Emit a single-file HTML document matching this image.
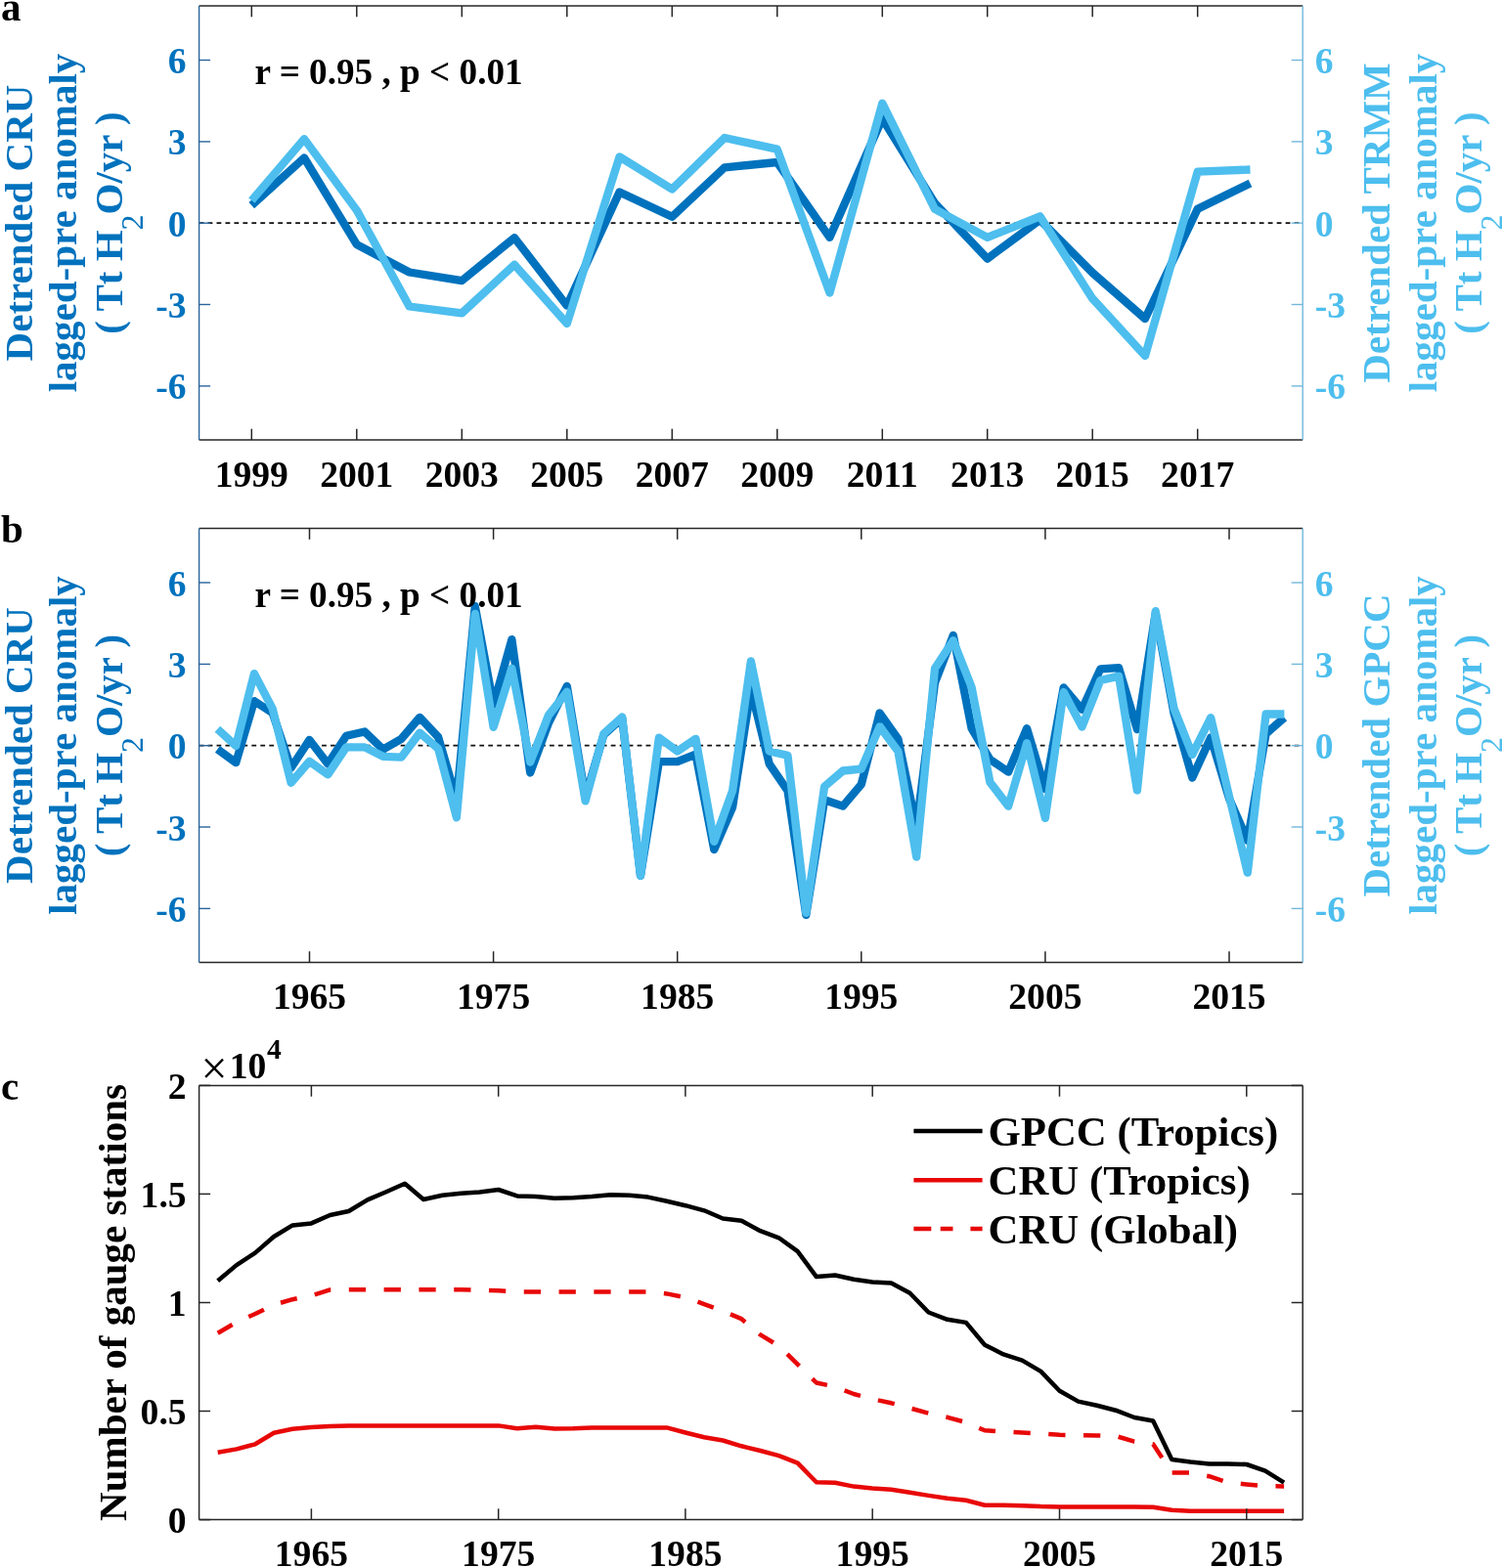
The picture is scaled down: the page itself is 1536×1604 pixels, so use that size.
<!DOCTYPE html><html><head><meta charset="utf-8"><style>html,body{margin:0;padding:0;background:#fff;}svg{display:block;}</style></head><body><svg width="1536" height="1604" viewBox="0 0 1536 1604" font-family="'Liberation Serif', 'Times New Roman', serif">
<rect width="1536" height="1604" fill="#fff"/>
<line x1="203.6" y1="228.2" x2="1332.2" y2="228.2" stroke="#111" stroke-width="1.7" stroke-dasharray="4.8 4.16"/>
<polyline points="257.3,210.1 311.1,161.5 364.8,250.1 418.6,278.5 472.3,287.1 526.1,243.2 579.8,312.7 633.5,196.5 687.3,221.8 741.0,171.3 794.8,166.0 848.5,242.9 902.3,121.2 956.0,207.9 1009.7,264.6 1063.5,224.9 1117.2,279.0 1171.0,326.0 1224.7,213.8 1278.5,187.4" fill="none" stroke="#0072BD" stroke-width="8.3" stroke-linejoin="round" stroke-linecap="butt" />
<polyline points="257.3,205.1 311.1,142.1 364.8,215.1 418.6,313.5 472.3,320.4 526.1,270.7 579.8,331.0 633.5,160.4 687.3,193.5 741.0,141.0 794.8,152.6 848.5,299.6 902.3,105.7 956.0,213.8 1009.7,242.9 1063.5,221.3 1117.2,305.4 1171.0,364.0 1224.7,175.7 1278.5,173.5" fill="none" stroke="#4DBEEE" stroke-width="8.3" stroke-linejoin="round" stroke-linecap="butt" />
<line x1="203.6" y1="6.0" x2="1332.2" y2="6.0" stroke="#262626" stroke-width="1.5" />
<line x1="203.6" y1="450.0" x2="1332.2" y2="450.0" stroke="#262626" stroke-width="1.5" />
<line x1="203.6" y1="6.0" x2="203.6" y2="450.0" stroke="#28649c" stroke-width="1.4" />
<line x1="1332.2" y1="6.0" x2="1332.2" y2="450.0" stroke="#72b8dc" stroke-width="1.4" />
<line x1="257.3" y1="450.0" x2="257.3" y2="438.7" stroke="#262626" stroke-width="1.5" />
<line x1="257.3" y1="6.0" x2="257.3" y2="17.3" stroke="#262626" stroke-width="1.5" />
<text x="257.3" y="497.5" font-size="37.6" fill="#000" text-anchor="middle" font-weight="bold" >1999</text>
<line x1="364.8" y1="450.0" x2="364.8" y2="438.7" stroke="#262626" stroke-width="1.5" />
<line x1="364.8" y1="6.0" x2="364.8" y2="17.3" stroke="#262626" stroke-width="1.5" />
<text x="364.8" y="497.5" font-size="37.6" fill="#000" text-anchor="middle" font-weight="bold" >2001</text>
<line x1="472.3" y1="450.0" x2="472.3" y2="438.7" stroke="#262626" stroke-width="1.5" />
<line x1="472.3" y1="6.0" x2="472.3" y2="17.3" stroke="#262626" stroke-width="1.5" />
<text x="472.3" y="497.5" font-size="37.6" fill="#000" text-anchor="middle" font-weight="bold" >2003</text>
<line x1="579.8" y1="450.0" x2="579.8" y2="438.7" stroke="#262626" stroke-width="1.5" />
<line x1="579.8" y1="6.0" x2="579.8" y2="17.3" stroke="#262626" stroke-width="1.5" />
<text x="579.8" y="497.5" font-size="37.6" fill="#000" text-anchor="middle" font-weight="bold" >2005</text>
<line x1="687.3" y1="450.0" x2="687.3" y2="438.7" stroke="#262626" stroke-width="1.5" />
<line x1="687.3" y1="6.0" x2="687.3" y2="17.3" stroke="#262626" stroke-width="1.5" />
<text x="687.3" y="497.5" font-size="37.6" fill="#000" text-anchor="middle" font-weight="bold" >2007</text>
<line x1="794.8" y1="450.0" x2="794.8" y2="438.7" stroke="#262626" stroke-width="1.5" />
<line x1="794.8" y1="6.0" x2="794.8" y2="17.3" stroke="#262626" stroke-width="1.5" />
<text x="794.8" y="497.5" font-size="37.6" fill="#000" text-anchor="middle" font-weight="bold" >2009</text>
<line x1="902.3" y1="450.0" x2="902.3" y2="438.7" stroke="#262626" stroke-width="1.5" />
<line x1="902.3" y1="6.0" x2="902.3" y2="17.3" stroke="#262626" stroke-width="1.5" />
<text x="902.3" y="497.5" font-size="37.6" fill="#000" text-anchor="middle" font-weight="bold" >2011</text>
<line x1="1009.7" y1="450.0" x2="1009.7" y2="438.7" stroke="#262626" stroke-width="1.5" />
<line x1="1009.7" y1="6.0" x2="1009.7" y2="17.3" stroke="#262626" stroke-width="1.5" />
<text x="1009.7" y="497.5" font-size="37.6" fill="#000" text-anchor="middle" font-weight="bold" >2013</text>
<line x1="1117.2" y1="450.0" x2="1117.2" y2="438.7" stroke="#262626" stroke-width="1.5" />
<line x1="1117.2" y1="6.0" x2="1117.2" y2="17.3" stroke="#262626" stroke-width="1.5" />
<text x="1117.2" y="497.5" font-size="37.6" fill="#000" text-anchor="middle" font-weight="bold" >2015</text>
<line x1="1224.7" y1="450.0" x2="1224.7" y2="438.7" stroke="#262626" stroke-width="1.5" />
<line x1="1224.7" y1="6.0" x2="1224.7" y2="17.3" stroke="#262626" stroke-width="1.5" />
<text x="1224.7" y="497.5" font-size="37.6" fill="#000" text-anchor="middle" font-weight="bold" >2017</text>
<line x1="203.6" y1="394.9" x2="215.1" y2="394.9" stroke="#28649c" stroke-width="1.4" />
<line x1="1332.2" y1="394.9" x2="1320.7" y2="394.9" stroke="#72b8dc" stroke-width="1.4" />
<text x="190.6" y="408.4" font-size="37.6" fill="#0072BD" text-anchor="end" font-weight="bold" >-6</text>
<text x="1344.7" y="408.4" font-size="37.6" fill="#4DBEEE" text-anchor="start" font-weight="bold" >-6</text>
<line x1="203.6" y1="311.5" x2="215.1" y2="311.5" stroke="#28649c" stroke-width="1.4" />
<line x1="1332.2" y1="311.5" x2="1320.7" y2="311.5" stroke="#72b8dc" stroke-width="1.4" />
<text x="190.6" y="325.0" font-size="37.6" fill="#0072BD" text-anchor="end" font-weight="bold" >-3</text>
<text x="1344.7" y="325.0" font-size="37.6" fill="#4DBEEE" text-anchor="start" font-weight="bold" >-3</text>
<line x1="203.6" y1="228.2" x2="215.1" y2="228.2" stroke="#28649c" stroke-width="1.4" />
<line x1="1332.2" y1="228.2" x2="1320.7" y2="228.2" stroke="#72b8dc" stroke-width="1.4" />
<text x="190.6" y="241.7" font-size="37.6" fill="#0072BD" text-anchor="end" font-weight="bold" >0</text>
<text x="1344.7" y="241.7" font-size="37.6" fill="#4DBEEE" text-anchor="start" font-weight="bold" >0</text>
<line x1="203.6" y1="144.9" x2="215.1" y2="144.9" stroke="#28649c" stroke-width="1.4" />
<line x1="1332.2" y1="144.9" x2="1320.7" y2="144.9" stroke="#72b8dc" stroke-width="1.4" />
<text x="190.6" y="158.4" font-size="37.6" fill="#0072BD" text-anchor="end" font-weight="bold" >3</text>
<text x="1344.7" y="158.4" font-size="37.6" fill="#4DBEEE" text-anchor="start" font-weight="bold" >3</text>
<line x1="203.6" y1="61.5" x2="215.1" y2="61.5" stroke="#28649c" stroke-width="1.4" />
<line x1="1332.2" y1="61.5" x2="1320.7" y2="61.5" stroke="#72b8dc" stroke-width="1.4" />
<text x="190.6" y="75.0" font-size="37.6" fill="#0072BD" text-anchor="end" font-weight="bold" >6</text>
<text x="1344.7" y="75.0" font-size="37.6" fill="#4DBEEE" text-anchor="start" font-weight="bold" >6</text>
<text x="260.5" y="86.3" font-size="37.2" fill="#000" text-anchor="start" font-weight="bold" >r = 0.95 , p &lt; 0.01</text>
<text x="1.0" y="20.5" font-size="41" fill="#000" text-anchor="start" font-weight="bold" >a</text>
<text transform="translate(32.5,228.0) rotate(-90)" x="0" y="0" font-size="41" fill="#0072BD" text-anchor="middle" font-weight="bold" >Detrended CRU</text>
<text transform="translate(78.0,228.0) rotate(-90)" x="0" y="0" font-size="41" fill="#0072BD" text-anchor="middle" font-weight="bold" >lagged-pre anomaly</text>
<text transform="translate(125.0,228.0) rotate(-90)" x="0" y="0" font-size="41" fill="#0072BD" text-anchor="middle" font-weight="bold" >( Tt H<tspan font-size="32" font-weight="normal" dy="21">2</tspan><tspan dy="-21">O/yr )</tspan></text>
<text transform="translate(1420.5,228.0) rotate(-90)" x="0" y="0" font-size="41" fill="#4DBEEE" text-anchor="middle" font-weight="bold" >Detrended TRMM</text>
<text transform="translate(1469.0,228.0) rotate(-90)" x="0" y="0" font-size="41" fill="#4DBEEE" text-anchor="middle" font-weight="bold" >lagged-pre anomaly</text>
<text transform="translate(1515.0,228.0) rotate(-90)" x="0" y="0" font-size="41" fill="#4DBEEE" text-anchor="middle" font-weight="bold" >( Tt H<tspan font-size="32" font-weight="normal" dy="21">2</tspan><tspan dy="-21">O/yr )</tspan></text>
<line x1="203.6" y1="762.7" x2="1332.2" y2="762.7" stroke="#111" stroke-width="1.7" stroke-dasharray="4.8 4.16"/>
<polyline points="222.4,766.3 241.2,780.2 260.0,717.1 278.8,729.4 297.6,785.5 316.5,756.9 335.3,781.6 354.1,752.7 372.9,748.5 391.7,766.6 410.5,755.8 429.3,733.8 448.1,753.8 466.9,818.3 485.8,620.2 504.6,721.0 523.4,654.1 542.2,790.5 561.0,739.6 579.8,701.9 598.6,815.5 617.4,751.6 636.2,734.6 655.0,895.8 673.9,779.1 692.7,779.1 711.5,771.6 730.3,869.1 749.1,825.8 767.9,704.9 786.7,781.3 805.5,808.8 824.3,936.0 843.1,818.3 862.0,824.6 880.8,802.4 899.6,729.4 918.4,755.8 937.2,846.0 956.0,698.5 974.8,649.9 993.6,745.2 1012.4,776.9 1031.2,789.6 1050.1,745.2 1068.9,807.1 1087.7,703.3 1106.5,725.8 1125.3,684.4 1144.1,683.2 1162.9,746.0 1181.7,627.7 1200.5,729.4 1219.3,795.5 1238.2,754.4 1257.0,816.9 1275.8,859.9 1294.6,750.5 1313.4,734.1" fill="none" stroke="#0072BD" stroke-width="8.3" stroke-linejoin="round" stroke-linecap="butt" />
<polyline points="222.4,745.8 241.2,763.0 260.0,689.1 278.8,725.2 297.6,800.8 316.5,778.8 335.3,792.4 354.1,764.4 372.9,764.4 391.7,773.8 410.5,774.6 429.3,749.6 448.1,765.8 466.9,836.3 485.8,628.0 504.6,743.8 523.4,683.8 542.2,779.6 561.0,731.6 579.8,707.7 598.6,819.4 617.4,750.5 636.2,733.5 655.0,895.8 673.9,754.6 692.7,768.5 711.5,755.8 730.3,860.8 749.1,808.8 767.9,676.3 786.7,768.5 805.5,772.7 824.3,933.8 843.1,804.6 862.0,788.5 880.8,786.6 899.6,743.3 918.4,768.5 937.2,876.6 956.0,683.8 974.8,655.2 993.6,703.0 1012.4,800.2 1031.2,824.6 1050.1,760.2 1068.9,836.9 1087.7,708.0 1106.5,743.5 1125.3,696.0 1144.1,691.6 1162.9,808.5 1181.7,625.2 1200.5,724.6 1219.3,771.9 1238.2,734.1 1257.0,814.6 1275.8,892.7 1294.6,730.5 1313.4,730.5" fill="none" stroke="#4DBEEE" stroke-width="8.3" stroke-linejoin="round" stroke-linecap="butt" />
<line x1="203.6" y1="540.5" x2="1332.2" y2="540.5" stroke="#262626" stroke-width="1.5" />
<line x1="203.6" y1="984.5" x2="1332.2" y2="984.5" stroke="#262626" stroke-width="1.5" />
<line x1="203.6" y1="540.5" x2="203.6" y2="984.5" stroke="#28649c" stroke-width="1.4" />
<line x1="1332.2" y1="540.5" x2="1332.2" y2="984.5" stroke="#72b8dc" stroke-width="1.4" />
<line x1="316.5" y1="984.5" x2="316.5" y2="973.2" stroke="#262626" stroke-width="1.5" />
<line x1="316.5" y1="540.5" x2="316.5" y2="551.8" stroke="#262626" stroke-width="1.5" />
<text x="316.5" y="1032.0" font-size="37.6" fill="#000" text-anchor="middle" font-weight="bold" >1965</text>
<line x1="504.6" y1="984.5" x2="504.6" y2="973.2" stroke="#262626" stroke-width="1.5" />
<line x1="504.6" y1="540.5" x2="504.6" y2="551.8" stroke="#262626" stroke-width="1.5" />
<text x="504.6" y="1032.0" font-size="37.6" fill="#000" text-anchor="middle" font-weight="bold" >1975</text>
<line x1="692.7" y1="984.5" x2="692.7" y2="973.2" stroke="#262626" stroke-width="1.5" />
<line x1="692.7" y1="540.5" x2="692.7" y2="551.8" stroke="#262626" stroke-width="1.5" />
<text x="692.7" y="1032.0" font-size="37.6" fill="#000" text-anchor="middle" font-weight="bold" >1985</text>
<line x1="880.8" y1="984.5" x2="880.8" y2="973.2" stroke="#262626" stroke-width="1.5" />
<line x1="880.8" y1="540.5" x2="880.8" y2="551.8" stroke="#262626" stroke-width="1.5" />
<text x="880.8" y="1032.0" font-size="37.6" fill="#000" text-anchor="middle" font-weight="bold" >1995</text>
<line x1="1068.9" y1="984.5" x2="1068.9" y2="973.2" stroke="#262626" stroke-width="1.5" />
<line x1="1068.9" y1="540.5" x2="1068.9" y2="551.8" stroke="#262626" stroke-width="1.5" />
<text x="1068.9" y="1032.0" font-size="37.6" fill="#000" text-anchor="middle" font-weight="bold" >2005</text>
<line x1="1257.0" y1="984.5" x2="1257.0" y2="973.2" stroke="#262626" stroke-width="1.5" />
<line x1="1257.0" y1="540.5" x2="1257.0" y2="551.8" stroke="#262626" stroke-width="1.5" />
<text x="1257.0" y="1032.0" font-size="37.6" fill="#000" text-anchor="middle" font-weight="bold" >2015</text>
<line x1="203.6" y1="929.4" x2="215.1" y2="929.4" stroke="#28649c" stroke-width="1.4" />
<line x1="1332.2" y1="929.4" x2="1320.7" y2="929.4" stroke="#72b8dc" stroke-width="1.4" />
<text x="190.6" y="942.9" font-size="37.6" fill="#0072BD" text-anchor="end" font-weight="bold" >-6</text>
<text x="1344.7" y="942.9" font-size="37.6" fill="#4DBEEE" text-anchor="start" font-weight="bold" >-6</text>
<line x1="203.6" y1="846.0" x2="215.1" y2="846.0" stroke="#28649c" stroke-width="1.4" />
<line x1="1332.2" y1="846.0" x2="1320.7" y2="846.0" stroke="#72b8dc" stroke-width="1.4" />
<text x="190.6" y="859.5" font-size="37.6" fill="#0072BD" text-anchor="end" font-weight="bold" >-3</text>
<text x="1344.7" y="859.5" font-size="37.6" fill="#4DBEEE" text-anchor="start" font-weight="bold" >-3</text>
<line x1="203.6" y1="762.7" x2="215.1" y2="762.7" stroke="#28649c" stroke-width="1.4" />
<line x1="1332.2" y1="762.7" x2="1320.7" y2="762.7" stroke="#72b8dc" stroke-width="1.4" />
<text x="190.6" y="776.2" font-size="37.6" fill="#0072BD" text-anchor="end" font-weight="bold" >0</text>
<text x="1344.7" y="776.2" font-size="37.6" fill="#4DBEEE" text-anchor="start" font-weight="bold" >0</text>
<line x1="203.6" y1="679.4" x2="215.1" y2="679.4" stroke="#28649c" stroke-width="1.4" />
<line x1="1332.2" y1="679.4" x2="1320.7" y2="679.4" stroke="#72b8dc" stroke-width="1.4" />
<text x="190.6" y="692.9" font-size="37.6" fill="#0072BD" text-anchor="end" font-weight="bold" >3</text>
<text x="1344.7" y="692.9" font-size="37.6" fill="#4DBEEE" text-anchor="start" font-weight="bold" >3</text>
<line x1="203.6" y1="596.0" x2="215.1" y2="596.0" stroke="#28649c" stroke-width="1.4" />
<line x1="1332.2" y1="596.0" x2="1320.7" y2="596.0" stroke="#72b8dc" stroke-width="1.4" />
<text x="190.6" y="609.5" font-size="37.6" fill="#0072BD" text-anchor="end" font-weight="bold" >6</text>
<text x="1344.7" y="609.5" font-size="37.6" fill="#4DBEEE" text-anchor="start" font-weight="bold" >6</text>
<text x="260.5" y="620.8" font-size="37.2" fill="#000" text-anchor="start" font-weight="bold" >r = 0.95 , p &lt; 0.01</text>
<text x="1.0" y="555.0" font-size="41" fill="#000" text-anchor="start" font-weight="bold" >b</text>
<text transform="translate(32.5,762.5) rotate(-90)" x="0" y="0" font-size="41" fill="#0072BD" text-anchor="middle" font-weight="bold" >Detrended CRU</text>
<text transform="translate(78.0,762.5) rotate(-90)" x="0" y="0" font-size="41" fill="#0072BD" text-anchor="middle" font-weight="bold" >lagged-pre anomaly</text>
<text transform="translate(125.0,762.5) rotate(-90)" x="0" y="0" font-size="41" fill="#0072BD" text-anchor="middle" font-weight="bold" >( Tt H<tspan font-size="32" font-weight="normal" dy="21">2</tspan><tspan dy="-21">O/yr )</tspan></text>
<text transform="translate(1420.5,762.5) rotate(-90)" x="0" y="0" font-size="41" fill="#4DBEEE" text-anchor="middle" font-weight="bold" >Detrended GPCC</text>
<text transform="translate(1469.0,762.5) rotate(-90)" x="0" y="0" font-size="41" fill="#4DBEEE" text-anchor="middle" font-weight="bold" >lagged-pre anomaly</text>
<text transform="translate(1515.0,762.5) rotate(-90)" x="0" y="0" font-size="41" fill="#4DBEEE" text-anchor="middle" font-weight="bold" >( Tt H<tspan font-size="32" font-weight="normal" dy="21">2</tspan><tspan dy="-21">O/yr )</tspan></text>
<polyline points="222.7,1310.3 241.9,1294.1 261.0,1281.6 280.1,1265.0 299.2,1253.4 318.4,1251.4 337.5,1243.0 356.6,1239.0 375.8,1227.4 394.9,1219.2 414.0,1210.8 433.1,1227.0 452.3,1222.8 471.4,1220.8 490.5,1219.5 509.7,1217.0 528.8,1223.4 547.9,1224.1 567.0,1225.7 586.2,1225.2 605.3,1224.1 624.4,1222.3 643.6,1222.8 662.7,1224.6 681.8,1228.8 700.9,1233.2 720.1,1238.3 739.2,1246.5 758.3,1248.8 777.5,1259.2 796.6,1266.3 815.7,1280.1 834.9,1306.1 854.0,1304.5 873.1,1308.7 892.2,1311.4 911.4,1312.5 930.5,1322.7 949.6,1342.5 968.8,1349.8 987.9,1352.9 1007.0,1375.8 1026.1,1385.4 1045.3,1391.6 1064.4,1402.9 1083.5,1422.7 1102.7,1433.6 1121.8,1437.8 1140.9,1442.7 1160.0,1450.0 1179.2,1453.5 1198.3,1492.9 1217.4,1495.5 1236.6,1497.5 1255.7,1497.5 1274.8,1498.0 1293.9,1504.6 1313.1,1516.6" fill="none" stroke="#000" stroke-width="4.5" stroke-linejoin="round" stroke-linecap="butt" />
<polyline points="222.7,1485.7 241.9,1482.4 261.0,1477.3 280.1,1465.8 299.2,1461.8 318.4,1460.0 337.5,1459.1 356.6,1458.4 375.8,1458.4 394.9,1458.4 414.0,1458.4 433.1,1458.4 452.3,1458.4 471.4,1458.4 490.5,1458.4 509.7,1458.4 528.8,1461.3 547.9,1459.8 567.0,1461.5 586.2,1461.3 605.3,1460.4 624.4,1460.4 643.6,1460.4 662.7,1460.4 681.8,1460.4 700.9,1465.5 720.1,1470.2 739.2,1473.5 758.3,1479.3 777.5,1484.0 796.6,1489.1 815.7,1496.6 834.9,1516.2 854.0,1516.8 873.1,1520.6 892.2,1522.6 911.4,1523.7 930.5,1526.8 949.6,1529.9 968.8,1532.8 987.9,1534.8 1007.0,1539.7 1026.1,1539.7 1045.3,1540.2 1064.4,1541.1 1083.5,1541.5 1102.7,1541.5 1121.8,1541.5 1140.9,1541.5 1160.0,1541.5 1179.2,1541.7 1198.3,1544.8 1217.4,1545.7 1236.6,1545.7 1255.7,1545.7 1274.8,1545.7 1293.9,1545.7 1313.1,1545.7" fill="none" stroke="#E80808" stroke-width="4.5" stroke-linejoin="round" stroke-linecap="butt" />
<polyline points="222.7,1363.8 241.9,1352.5 261.0,1344.0 280.1,1334.7 299.2,1329.2 318.4,1325.4 337.5,1319.4 356.6,1319.2 375.8,1319.2 394.9,1319.2 414.0,1319.2 433.1,1319.2 452.3,1319.2 471.4,1319.2 490.5,1319.6 509.7,1320.3 528.8,1321.4 547.9,1321.4 567.0,1321.4 586.2,1321.4 605.3,1321.4 624.4,1321.4 643.6,1321.4 662.7,1321.4 681.8,1323.4 700.9,1327.2 720.1,1334.1 739.2,1341.2 758.3,1349.2 777.5,1365.4 796.6,1376.9 815.7,1395.6 834.9,1414.5 854.0,1418.7 873.1,1426.0 892.2,1431.1 911.4,1435.3 930.5,1440.4 949.6,1445.8 968.8,1449.8 987.9,1455.1 1007.0,1463.3 1026.1,1464.4 1045.3,1465.5 1064.4,1466.4 1083.5,1467.8 1102.7,1468.2 1121.8,1468.4 1140.9,1468.9 1160.0,1474.6 1179.2,1477.3 1198.3,1506.4 1217.4,1506.4 1236.6,1510.2 1255.7,1516.6 1274.8,1518.4 1293.9,1520.2 1313.1,1520.4" fill="none" stroke="#E80808" stroke-width="4.5" stroke-linejoin="round" stroke-linecap="butt" stroke-dasharray="17.3 18.5"/>
<line x1="203.6" y1="1110.4" x2="1332.2" y2="1110.4" stroke="#262626" stroke-width="1.5" />
<line x1="203.6" y1="1554.6" x2="1332.2" y2="1554.6" stroke="#262626" stroke-width="1.5" />
<line x1="203.6" y1="1110.4" x2="203.6" y2="1554.6" stroke="#262626" stroke-width="1.5" />
<line x1="1332.2" y1="1110.4" x2="1332.2" y2="1554.6" stroke="#262626" stroke-width="1.5" />
<line x1="318.4" y1="1554.6" x2="318.4" y2="1543.3" stroke="#262626" stroke-width="1.5" />
<line x1="318.4" y1="1110.4" x2="318.4" y2="1121.7" stroke="#262626" stroke-width="1.5" />
<text x="318.4" y="1602.1" font-size="37.6" fill="#000" text-anchor="middle" font-weight="bold" >1965</text>
<line x1="509.7" y1="1554.6" x2="509.7" y2="1543.3" stroke="#262626" stroke-width="1.5" />
<line x1="509.7" y1="1110.4" x2="509.7" y2="1121.7" stroke="#262626" stroke-width="1.5" />
<text x="509.7" y="1602.1" font-size="37.6" fill="#000" text-anchor="middle" font-weight="bold" >1975</text>
<line x1="700.9" y1="1554.6" x2="700.9" y2="1543.3" stroke="#262626" stroke-width="1.5" />
<line x1="700.9" y1="1110.4" x2="700.9" y2="1121.7" stroke="#262626" stroke-width="1.5" />
<text x="700.9" y="1602.1" font-size="37.6" fill="#000" text-anchor="middle" font-weight="bold" >1985</text>
<line x1="892.2" y1="1554.6" x2="892.2" y2="1543.3" stroke="#262626" stroke-width="1.5" />
<line x1="892.2" y1="1110.4" x2="892.2" y2="1121.7" stroke="#262626" stroke-width="1.5" />
<text x="892.2" y="1602.1" font-size="37.6" fill="#000" text-anchor="middle" font-weight="bold" >1995</text>
<line x1="1083.5" y1="1554.6" x2="1083.5" y2="1543.3" stroke="#262626" stroke-width="1.5" />
<line x1="1083.5" y1="1110.4" x2="1083.5" y2="1121.7" stroke="#262626" stroke-width="1.5" />
<text x="1083.5" y="1602.1" font-size="37.6" fill="#000" text-anchor="middle" font-weight="bold" >2005</text>
<line x1="1274.8" y1="1554.6" x2="1274.8" y2="1543.3" stroke="#262626" stroke-width="1.5" />
<line x1="1274.8" y1="1110.4" x2="1274.8" y2="1121.7" stroke="#262626" stroke-width="1.5" />
<text x="1274.8" y="1602.1" font-size="37.6" fill="#000" text-anchor="middle" font-weight="bold" >2015</text>
<line x1="203.6" y1="1554.6" x2="215.1" y2="1554.6" stroke="#262626" stroke-width="1.5" />
<line x1="1332.2" y1="1554.6" x2="1320.7" y2="1554.6" stroke="#262626" stroke-width="1.5" />
<text x="190.6" y="1568.1" font-size="37.6" fill="#000" text-anchor="end" font-weight="bold" >0</text>
<line x1="203.6" y1="1443.5" x2="215.1" y2="1443.5" stroke="#262626" stroke-width="1.5" />
<line x1="1332.2" y1="1443.5" x2="1320.7" y2="1443.5" stroke="#262626" stroke-width="1.5" />
<text x="190.6" y="1457.0" font-size="37.6" fill="#000" text-anchor="end" font-weight="bold" >0.5</text>
<line x1="203.6" y1="1332.5" x2="215.1" y2="1332.5" stroke="#262626" stroke-width="1.5" />
<line x1="1332.2" y1="1332.5" x2="1320.7" y2="1332.5" stroke="#262626" stroke-width="1.5" />
<text x="190.6" y="1346.0" font-size="37.6" fill="#000" text-anchor="end" font-weight="bold" >1</text>
<line x1="203.6" y1="1221.4" x2="215.1" y2="1221.4" stroke="#262626" stroke-width="1.5" />
<line x1="1332.2" y1="1221.4" x2="1320.7" y2="1221.4" stroke="#262626" stroke-width="1.5" />
<text x="190.6" y="1234.9" font-size="37.6" fill="#000" text-anchor="end" font-weight="bold" >1.5</text>
<line x1="203.6" y1="1110.4" x2="215.1" y2="1110.4" stroke="#262626" stroke-width="1.5" />
<line x1="1332.2" y1="1110.4" x2="1320.7" y2="1110.4" stroke="#262626" stroke-width="1.5" />
<text x="190.6" y="1123.9" font-size="37.6" fill="#000" text-anchor="end" font-weight="bold" >2</text>
<text x="205.5" y="1109.0" font-size="48" fill="#000" text-anchor="start" font-weight="normal" >×</text>
<text x="234.7" y="1102.7" font-size="37.6" fill="#000" text-anchor="start" font-weight="bold" >10</text>
<text x="273.0" y="1082.8" font-size="29.5" fill="#000" text-anchor="start" font-weight="bold" >4</text>
<text x="1.0" y="1125.0" font-size="41" fill="#000" text-anchor="start" font-weight="bold" >c</text>
<text transform="translate(129.0,1332.5) rotate(-90)" x="0" y="0" font-size="41" fill="#000" text-anchor="middle" font-weight="bold" >Number of gauge stations</text>
<line x1="934.4" y1="1157.0" x2="1004.6" y2="1157.0" stroke="#000" stroke-width="4.5" />
<line x1="934.4" y1="1207.2" x2="1004.6" y2="1207.2" stroke="#E80808" stroke-width="4.5" />
<path d="M934.4 1256.9H952.3M961.7 1256.9H974.5M992.4 1256.9H1004.6" stroke="#E80808" stroke-width="4.5" fill="none"/>
<text x="1010.5" y="1171.7" font-size="42.8" fill="#000" text-anchor="start" font-weight="bold" >GPCC (Tropics)</text>
<text x="1010.5" y="1221.7" font-size="42.8" fill="#000" text-anchor="start" font-weight="bold" >CRU (Tropics)</text>
<text x="1010.5" y="1271.7" font-size="42.8" fill="#000" text-anchor="start" font-weight="bold" >CRU (Global)</text>
</svg></body></html>
